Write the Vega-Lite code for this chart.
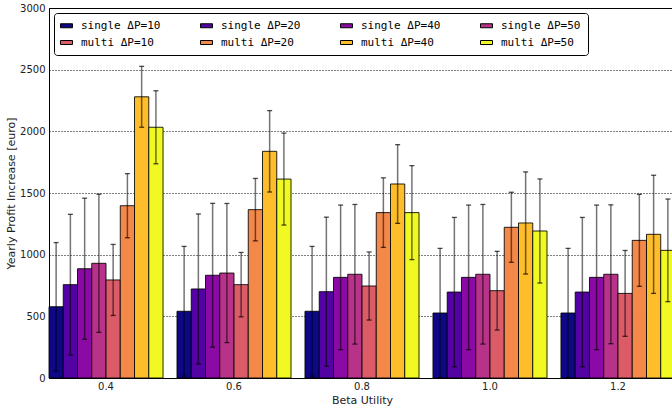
{
  "$schema": "https://vega.github.io/schema/vega-lite/v6.json",
  "width": 626,
  "height": 370,
  "autosize": "none",
  "padding": {"left": 49, "top": 8, "right": 0, "bottom": 30},
  "background": "white",
  "config": {
    "view": {"stroke": "black", "strokeWidth": 1},
    "font": "DejaVu Sans"
  },
  "data": {
    "values": [
      {"beta": "0.4", "series": "single ΔP=10", "value": 578, "lo": 58, "hi": 1098},
      {"beta": "0.4", "series": "single ΔP=20", "value": 757, "lo": 186, "hi": 1327},
      {"beta": "0.4", "series": "single ΔP=40", "value": 886, "lo": 314, "hi": 1458},
      {"beta": "0.4", "series": "single ΔP=50", "value": 930, "lo": 370, "hi": 1490},
      {"beta": "0.4", "series": "multi ΔP=10", "value": 795, "lo": 507, "hi": 1083},
      {"beta": "0.4", "series": "multi ΔP=20", "value": 1397, "lo": 1137, "hi": 1657},
      {"beta": "0.4", "series": "multi ΔP=40", "value": 2280, "lo": 2033, "hi": 2527},
      {"beta": "0.4", "series": "multi ΔP=50", "value": 2033, "lo": 1737, "hi": 2329},
      {"beta": "0.6", "series": "single ΔP=10", "value": 541, "lo": 15, "hi": 1067},
      {"beta": "0.6", "series": "single ΔP=20", "value": 722, "lo": 114, "hi": 1330},
      {"beta": "0.6", "series": "single ΔP=40", "value": 833, "lo": 250, "hi": 1416},
      {"beta": "0.6", "series": "single ΔP=50", "value": 851, "lo": 287, "hi": 1415},
      {"beta": "0.6", "series": "multi ΔP=10", "value": 757, "lo": 496, "hi": 1018},
      {"beta": "0.6", "series": "multi ΔP=20", "value": 1365, "lo": 1112, "hi": 1618},
      {"beta": "0.6", "series": "multi ΔP=40", "value": 1838, "lo": 1508, "hi": 2168},
      {"beta": "0.6", "series": "multi ΔP=50", "value": 1613, "lo": 1240, "hi": 1986},
      {"beta": "0.8", "series": "single ΔP=10", "value": 541, "lo": 15, "hi": 1067},
      {"beta": "0.8", "series": "single ΔP=20", "value": 700, "lo": 96, "hi": 1304},
      {"beta": "0.8", "series": "single ΔP=40", "value": 816, "lo": 230, "hi": 1402},
      {"beta": "0.8", "series": "single ΔP=50", "value": 841, "lo": 275, "hi": 1407},
      {"beta": "0.8", "series": "multi ΔP=10", "value": 746, "lo": 470, "hi": 1022},
      {"beta": "0.8", "series": "multi ΔP=20", "value": 1341, "lo": 1059, "hi": 1623},
      {"beta": "0.8", "series": "multi ΔP=40", "value": 1573, "lo": 1254, "hi": 1892},
      {"beta": "0.8", "series": "multi ΔP=50", "value": 1341, "lo": 960, "hi": 1722},
      {"beta": "1.0", "series": "single ΔP=10", "value": 527, "lo": 3, "hi": 1051},
      {"beta": "1.0", "series": "single ΔP=20", "value": 697, "lo": 92, "hi": 1302},
      {"beta": "1.0", "series": "single ΔP=40", "value": 816, "lo": 230, "hi": 1402},
      {"beta": "1.0", "series": "single ΔP=50", "value": 841, "lo": 275, "hi": 1407},
      {"beta": "1.0", "series": "multi ΔP=10", "value": 708, "lo": 389, "hi": 1027},
      {"beta": "1.0", "series": "multi ΔP=20", "value": 1222, "lo": 938, "hi": 1506},
      {"beta": "1.0", "series": "multi ΔP=40", "value": 1257, "lo": 843, "hi": 1671},
      {"beta": "1.0", "series": "multi ΔP=50", "value": 1192, "lo": 770, "hi": 1614},
      {"beta": "1.2", "series": "single ΔP=10", "value": 527, "lo": 3, "hi": 1051},
      {"beta": "1.2", "series": "single ΔP=20", "value": 697, "lo": 92, "hi": 1302},
      {"beta": "1.2", "series": "single ΔP=40", "value": 816, "lo": 230, "hi": 1402},
      {"beta": "1.2", "series": "single ΔP=50", "value": 841, "lo": 278, "hi": 1404},
      {"beta": "1.2", "series": "multi ΔP=10", "value": 686, "lo": 338, "hi": 1034},
      {"beta": "1.2", "series": "multi ΔP=20", "value": 1116, "lo": 743, "hi": 1489},
      {"beta": "1.2", "series": "multi ΔP=40", "value": 1165, "lo": 686, "hi": 1644},
      {"beta": "1.2", "series": "multi ΔP=50", "value": 1035, "lo": 619, "hi": 1451}
    ]
  },
  "encoding": {
    "x": {
      "field": "beta", "type": "nominal",
      "scale": {"paddingInner": 0.109, "paddingOuter": 0},
      "axis": {
        "title": "Beta Utility", "labelAngle": 0, "ticks": false,
        "domainColor": "black", "labelColor": "#222", "labelFontSize": 10,
        "labelPadding": 3, "titleFontSize": 11, "titleFontWeight": "normal",
        "titleColor": "#222", "titlePadding": 3
      }
    },
    "xOffset": {
      "field": "series", "type": "nominal",
      "scale": {
        "paddingInner": 0, "paddingOuter": 0,
        "domain": ["single ΔP=10", "single ΔP=20", "single ΔP=40", "single ΔP=50", "multi ΔP=10", "multi ΔP=20", "multi ΔP=40", "multi ΔP=50"]
      }
    }
  },
  "layer": [
    {
      "mark": {"type": "bar", "stroke": "black", "strokeWidth": 1, "strokeOpacity": 0.85},
      "encoding": {
        "y": {
          "field": "value", "type": "quantitative",
          "scale": {"domain": [0, 3000], "nice": false},
          "axis": {
            "title": "Yearly Profit Increase [euro]", "values": [0, 500, 1000, 1500, 2000, 2500, 3000],
            "format": "d",
            "grid": true, "gridColor": "black", "gridDash": [1, 2], "gridOpacity": 1,
            "ticks": false, "domainColor": "black", "labelColor": "#222", "labelFontSize": 10,
            "labelPadding": 4, "titleFontSize": 11, "titleFontWeight": "normal",
            "titleColor": "#222", "titlePadding": 3
          }
        },
        "color": {
          "field": "series", "type": "nominal",
          "scale": {
            "domain": ["single ΔP=10", "single ΔP=20", "single ΔP=40", "single ΔP=50", "multi ΔP=10", "multi ΔP=20", "multi ΔP=40", "multi ΔP=50"],
            "range": ["#0d0887", "#5302a3", "#8b0aa5", "#b83289", "#db5c68", "#f48849", "#febd2a", "#f0f921"]
          },
          "legend": {
            "title": null, "orient": "none", "legendX": 5, "legendY": 5,
            "columns": 4, "direction": "horizontal",
            "symbolType": "M-1.2,-0.4h2.4v0.8h-2.4z", "symbolSize": 100,
            "symbolStrokeColor": "black", "symbolStrokeWidth": 1, "symbolOpacity": 1,
            "labelFont": "DejaVu Sans Mono", "labelFontSize": 11, "labelColor": "black",
            "labelOffset": 9, "columnPadding": 37, "rowPadding": 5,
            "strokeColor": "black", "fillColor": "white", "padding": 7, "cornerRadius": 3,
            "labelLimit": 200
          }
        }
      }
    },
    {
      "mark": {"type": "rule", "color": "black", "opacity": 0.55, "strokeWidth": 1.5},
      "encoding": {
        "y": {"field": "lo", "type": "quantitative"},
        "y2": {"field": "hi"}
      }
    },
    {
      "mark": {"type": "tick", "color": "black", "size": 5, "thickness": 1.3},
      "encoding": {"y": {"field": "lo", "type": "quantitative"}}
    },
    {
      "mark": {"type": "tick", "color": "black", "size": 5, "thickness": 1.3},
      "encoding": {"y": {"field": "hi", "type": "quantitative"}}
    }
  ]
}
